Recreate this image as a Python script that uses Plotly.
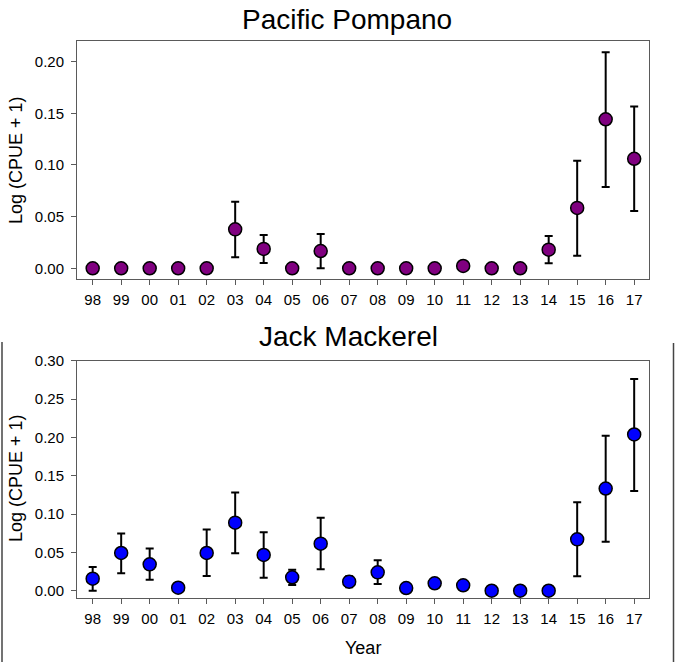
import plotly.graph_objects as go

years = ["98", "99", "00", "01", "02", "03", "04", "05", "06", "07",
         "08", "09", "10", "11", "12", "13", "14", "15", "16", "17"]

# Pacific Pompano
pomp_mean = [0, 0, 0, 0, 0, 0.0377, 0.0187, 0, 0.0167, 0,
             0, 0, 0, 0.0022, 0, 0, 0.018, 0.0584, 0.1442, 0.106]
pomp_upper = [0, 0, 0, 0, 0, 0.0645, 0.0322, 0, 0.0332, 0,
              0, 0, 0, 0.0022, 0, 0, 0.0313, 0.104, 0.209, 0.1565]
pomp_lower = [0, 0, 0, 0, 0, 0.0106, 0.0051, 0, 0.0, 0,
              0, 0, 0, 0.0022, 0, 0, 0.0048, 0.0122, 0.0787, 0.0555]

# Jack Mackerel
jack_mean = [0.0157, 0.0492, 0.0344, 0.0039, 0.0492, 0.0888, 0.0466, 0.0175, 0.0614, 0.0118,
             0.024, 0.0035, 0.0097, 0.0071, 0.0, 0.0, 0.0, 0.067, 0.1333, 0.2038]
jack_upper = [0.031, 0.0745, 0.0549, 0.0039, 0.0797, 0.128, 0.0762, 0.0275, 0.095, 0.019,
              0.0397, 0.0035, 0.0135, 0.0071, 0.0, 0.0, 0.0, 0.1155, 0.202, 0.276]
jack_lower = [0.0, 0.0227, 0.0144, 0.0039, 0.0192, 0.0488, 0.017, 0.0074, 0.028, 0.0044,
              0.0087, 0.0035, 0.0062, 0.0071, 0.0, 0.0, 0.0, 0.0188, 0.064, 0.1302]

pomp_ticks = [0.00, 0.05, 0.10, 0.15, 0.20]
jack_ticks = [0.00, 0.05, 0.10, 0.15, 0.20, 0.25, 0.30]

FONT = "Liberation Sans, Arial, sans-serif"
FRAME = "#5a5a5a"

x_idx = list(range(len(years)))

def err(mean, up, lo):
    plus = [max(u - m, 0) for m, u in zip(mean, up)]
    minus = [max(m - l, 0) for m, l in zip(mean, lo)]
    return dict(type="data", symmetric=False, array=plus, arrayminus=minus,
                color="black", thickness=2, width=4)

fig = go.Figure()
fig.add_trace(go.Scatter(
    x=x_idx, y=pomp_mean, mode="markers",
    error_y=err(pomp_mean, pomp_upper, pomp_lower),
    marker=dict(symbol="circle", size=13, color="#800080",
                line=dict(color="black", width=1.5)),
    xaxis="x", yaxis="y", showlegend=False))
fig.add_trace(go.Scatter(
    x=x_idx, y=jack_mean, mode="markers",
    error_y=err(jack_mean, jack_upper, jack_lower),
    marker=dict(symbol="circle", size=13, color="#0000FF",
                line=dict(color="black", width=1.5)),
    xaxis="x2", yaxis="y2", showlegend=False))

W, H = 675, 662
xdom = [77 / W, 649 / W]

def xaxis(anchor):
    return dict(domain=xdom, anchor=anchor, range=[-0.55, 19.52], automargin=False,
                tickmode="array", tickvals=x_idx, ticktext=years,
                ticks="outside", ticklen=5, tickcolor=FRAME, tickwidth=1,
                ticklabelstandoff=2,
                showline=True, linecolor=FRAME, linewidth=1, mirror=True,
                showgrid=False, zeroline=False,
                tickfont=dict(family=FONT, size=15, color="black"))

def yaxis(anchor, dom, rng, ticks):
    return dict(domain=dom, anchor=anchor, range=rng, automargin=False,
                tickmode="array", tickvals=ticks,
                ticktext=[f"{t:.2f}" for t in ticks],
                ticks="outside", ticklen=5, tickcolor=FRAME, tickwidth=1,
                ticklabelstandoff=4,
                showline=True, linecolor=FRAME, linewidth=1, mirror=True,
                showgrid=False, zeroline=False,
                tickfont=dict(family=FONT, size=15, color="black"))

fig.update_layout(
    template="none",
    width=W, height=H, autosize=False,
    margin=dict(l=0, r=0, t=0, b=0, pad=0),
    paper_bgcolor="white", plot_bgcolor="white",
    xaxis=xaxis("y"),
    yaxis=yaxis("x", [1 - 279 / H, 1 - 41 / H], [-0.0104, 0.22], pomp_ticks),
    xaxis2=xaxis("y2"),
    yaxis2=yaxis("x2", [1 - 598.3 / H, 1 - 360.7 / H], [-0.0099, 0.30], jack_ticks),
    annotations=[
        dict(text="Pacific Pompano", x=347 / W, y=1 - 19 / H, xref="paper", yref="paper",
             showarrow=False, font=dict(family=FONT, size=28, color="black"),
             xanchor="center", yanchor="middle"),
        dict(text="Jack Mackerel", x=348 / W, y=1 - 336 / H, xref="paper", yref="paper",
             showarrow=False, font=dict(family=FONT, size=28, color="black"),
             xanchor="center", yanchor="middle"),
        dict(text="Year", x=363 / W, y=1 - 648 / H, xref="paper", yref="paper",
             showarrow=False, font=dict(family=FONT, size=18, color="black"),
             xanchor="center", yanchor="middle"),
        dict(text="Log (CPUE + 1)", x=16 / W, y=1 - 160 / H, xref="paper", yref="paper",
             showarrow=False, textangle=-90, font=dict(family=FONT, size=18, color="black"),
             xanchor="center", yanchor="middle"),
        dict(text="Log (CPUE + 1)", x=16 / W, y=1 - 478 / H, xref="paper", yref="paper",
             showarrow=False, textangle=-90, font=dict(family=FONT, size=18, color="black"),
             xanchor="center", yanchor="middle"),
    ],
    shapes=[
        dict(type="line", xref="paper", yref="paper", x0=2 / W, x1=2 / W,
             y0=0, y1=1 - 342 / H, line=dict(color="#444444", width=1.5)),
        dict(type="line", xref="paper", yref="paper", x0=673.5 / W, x1=673.5 / W,
             y0=0, y1=1 - 343 / H, line=dict(color="#444444", width=1.5)),
    ],
)

fig.write_html("out.html", config={"displayModeBar": False},
               post_script="document.body.style.margin='0';document.body.style.overflow='hidden';")
